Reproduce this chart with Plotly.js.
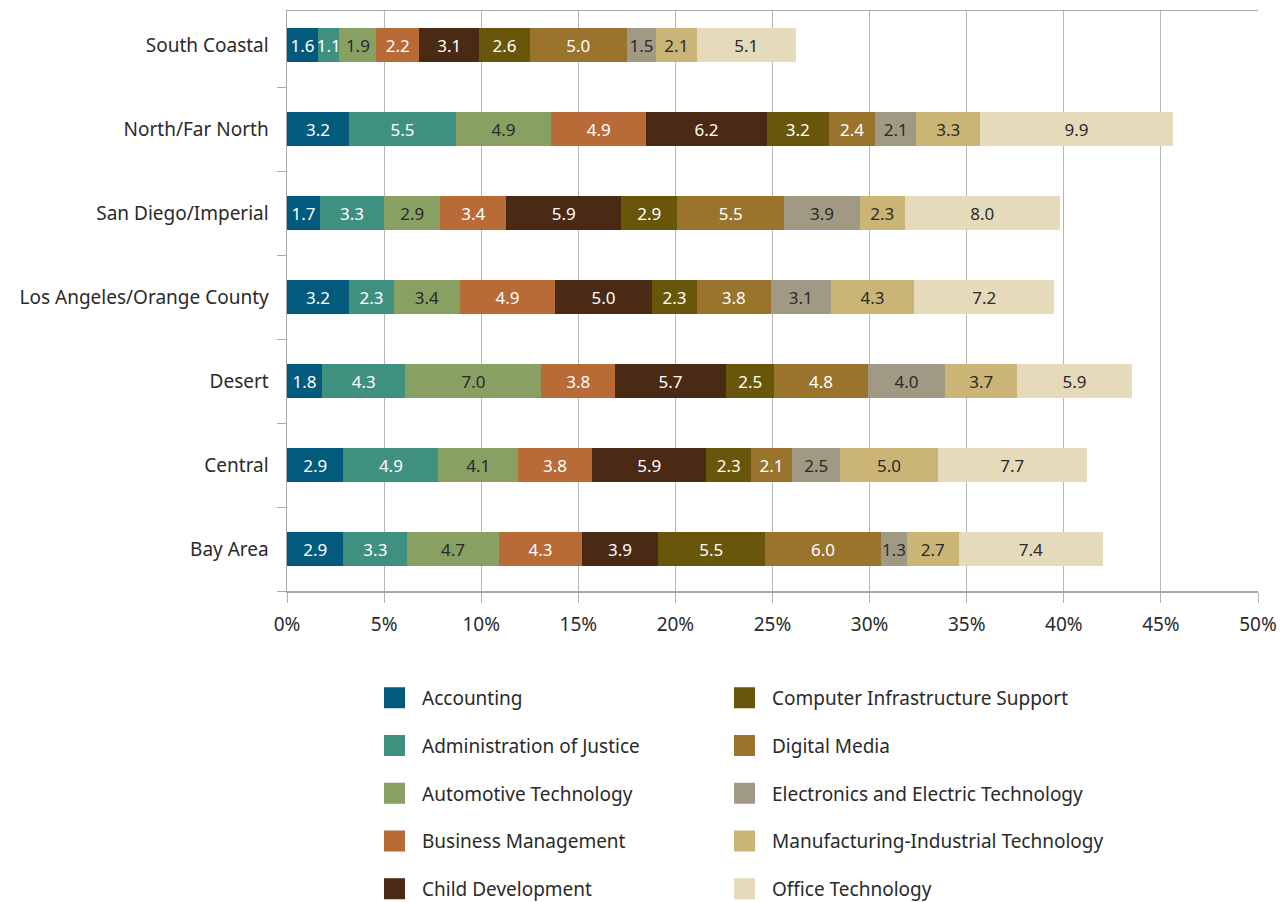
<!DOCTYPE html>
<html>
<head>
<meta charset="utf-8">
<script src="https://cdn.plot.ly/plotly-3.0.1.min.js"></script>
<style>html,body{margin:0;padding:0;background:#fff}#chart{width:1286px;height:902px}</style>
</head>
<body>
<div id="chart"></div>
<script>
const regions = ["Bay Area", "Central", "Desert", "Los Angeles/Orange County", "San Diego/Imperial", "North/Far North", "South Coastal"];
const programs = ["Accounting", "Administration of Justice", "Automotive Technology", "Business Management", "Child Development",
  "Computer Infrastructure Support", "Digital Media", "Electronics and Electric Technology", "Manufacturing-Industrial Technology", "Office Technology"];
const accounting      = [2.9, 2.9, 1.8, 3.2, 1.7, 3.2, 1.6];
const adminJustice    = [3.3, 4.9, 4.3, 2.3, 3.3, 5.5, 1.1];
const automotive      = [4.7, 4.1, 7.0, 3.4, 2.9, 4.9, 1.9];
const businessMgmt    = [4.3, 3.8, 3.8, 4.9, 3.4, 4.9, 2.2];
const childDev        = [3.9, 5.9, 5.7, 5.0, 5.9, 6.2, 3.1];
const computerInfra   = [5.5, 2.3, 2.5, 2.3, 2.9, 3.2, 2.6];
const digitalMedia    = [6.0, 2.1, 4.8, 3.8, 5.5, 2.4, 5.0];
const electronics     = [1.3, 2.5, 4.0, 3.1, 3.9, 2.1, 1.5];
const manufacturing   = [2.7, 5.0, 3.7, 4.3, 2.3, 3.3, 2.1];
const officeTech      = [7.4, 7.7, 5.9, 7.2, 8.0, 9.9, 5.1];
const xTickVals = [0, 5, 10, 15, 20, 25, 30, 35, 40, 45, 50];
const xTickText = ["0%", "5%", "10%", "15%", "20%", "25%", "30%", "35%", "40%", "45%", "50%"];

const series = [accounting, adminJustice, automotive, businessMgmt, childDev, computerInfra, digitalMedia, electronics, manufacturing, officeTech];
const colors = ["#025a7c", "#40907f", "#88a062", "#b86a37", "#4a2915", "#68570a", "#9a742d", "#a09a84", "#cab576", "#e5dbba"];
const textColors = ["#ffffff", "#ffffff", "#2a2a2a", "#ffffff", "#ffffff", "#ffffff", "#ffffff", "#2a2a2a", "#2a2a2a", "#2a2a2a"];
const FONT = "Noto Sans, Open Sans, sans-serif";

const data = [];
series.forEach((vals, i) => {
  data.push({
    type: "bar", orientation: "h", name: programs[i],
    x: vals, y: regions,
    marker: {color: colors[i], line: {width: 0}},
    text: vals.map(v => v.toFixed(1)),
    textposition: "inside", insidetextanchor: "middle", textangle: 0,
    constraintext: "none", cliponaxis: false,
    textfont: {family: FONT, size: 17, color: textColors[i]},
    hoverinfo: "x+y+name", showlegend: false, legendgroup: "g" + i
  });
});
series.forEach((vals, i) => {
  data.push({
    type: "scatter", mode: "markers", name: programs[i],
    x: [null], y: [null],
    marker: {symbol: "square", size: 16, color: colors[i], line: {width: 5, color: colors[i]}},
    showlegend: true, legendgroup: "g" + i,
    legend: i < 5 ? "legend" : "legend2", hoverinfo: "skip"
  });
});

const legendCommon = {
  orientation: "v", xref: "container", yref: "container", yanchor: "top", xanchor: "left",
  font: {family: FONT, size: 19, color: "#2a2a2a"}, tracegroupgap: 20, bgcolor: "rgba(0,0,0,0)",
  itemsizing: "trace", itemwidth: 45
};

const layout = {
  width: 1286, height: 902,
  margin: {l: 287, r: 28, t: 11, b: 311, autoexpand: false},
  paper_bgcolor: "#ffffff", plot_bgcolor: "#ffffff",
  barmode: "stack", bargap: 0.595,
  font: {family: FONT, size: 19, color: "#2a2a2a"},
  xaxis: {
    range: [0, 50], tickvals: xTickVals, ticktext: xTickText,
    showgrid: true, gridcolor: "#b8b8b8", gridwidth: 1,
    showline: true, linecolor: "#a8a8a8", linewidth: 1.5, mirror: true,
    ticks: "outside", ticklen: 10, tickcolor: "#b0b0b0", tickwidth: 1,
    ticklabelstandoff: 6,
    tickfont: {family: FONT, size: 19, color: "#2a2a2a"}, zeroline: false, fixedrange: true
  },
  yaxis: {
    type: "category", categoryorder: "array", categoryarray: regions,
    range: [-0.5, 6.405], showgrid: false,
    showline: true, linecolor: "#a8a8a8", linewidth: 1.5,
    ticks: "outside", tickson: "boundaries", ticklen: 9, tickcolor: "#a8a8a8", tickwidth: 1,
    ticklabelstandoff: 13,
    tickfont: {family: FONT, size: 19, color: "#2a2a2a"}, fixedrange: true
  },
  legend: Object.assign({}, legendCommon, {x: 367 / 1286, y: 1 - 679 / 902}),
  legend2: Object.assign({}, legendCommon, {x: 717 / 1286, y: 1 - 679 / 902}),
  showlegend: true
};

Plotly.newPlot("chart", data, layout, {displayModeBar: false, staticPlot: true});
</script>
</body>
</html>
